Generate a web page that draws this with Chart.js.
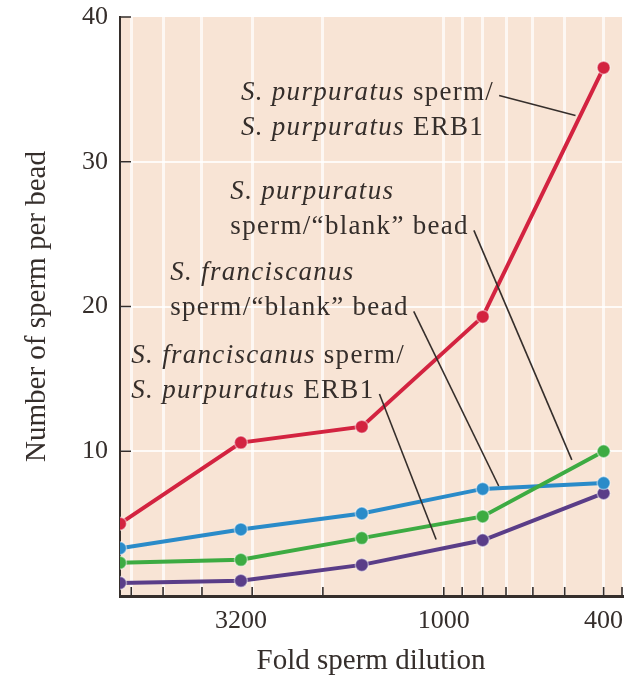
<!DOCTYPE html>
<html>
<head>
<meta charset="utf-8">
<script src="https://cdn.jsdelivr.net/npm/chart.js@4.4.1/dist/chart.umd.min.js"></script>
<style>
  html, body { margin: 0; padding: 0; background: #fff; }
</style>
</head>
<body>
<canvas id="spermChart" width="640" height="686"></canvas>
<script>
// fold dilution of the sperm suspension (x) and sperm bound per bead (y)
const dilutions = [6400, 3200, 1600, 800, 400];
const spermPurpOnErb1 = [5.0, 10.6, 11.7, 19.3, 36.5];
const spermPurpOnBlank = [2.3, 2.5, 4.0, 5.5, 10.0];
const spermFranOnBlank = [3.3, 4.6, 5.7, 7.4, 7.8];
const spermFranOnErb1 = [0.9, 1.05, 2.15, 3.85, 7.1];

const xTickMarks = [400, 500, 600, 700, 800, 900, 1000, 2000, 3000, 4000, 5000, 6000];
const xTickLabels = [3200, 1000, 400];
const yTicks = [0, 10, 20, 30, 40];

// callout text, [text, italic]
const notePurpErb1 = [[["S. purpuratus", true], [" sperm/", false]], [["S. purpuratus", true], [" ERB1", false]]];
const notePurpBlank = [[["S. purpuratus", true]], [["sperm/\u201cblank\u201d bead", false]]];
const noteFranBlank = [[["S. franciscanus", true]], [["sperm/\u201cblank\u201d bead", false]]];
const noteFranErb1 = [[["S. franciscanus", true], [" sperm/", false]], [["S. purpuratus", true], [" ERB1", false]]];
const notes = [notePurpErb1, notePurpBlank, noteFranBlank, noteFranErb1];
// where each callout starts (dilution, count) and where its pointer lands
const noteAnchors = [[3200, 34.3], [3400, 27.4], [4800, 21.8], [6000, 16.1]];
const notePointerLine = [0, 1, 1, 1];
const notePointerEnds = [[470, 33.2], [480, 9.4], [730, 7.6], [1045, 3.9]];

const textColor = "#352e2b";
const serif = "'Liberation Serif', 'Times New Roman', serif";

function series(label, values, color) {
  return {
    label: label,
    data: dilutions.map((d, i) => ({ x: d, y: values[i] })),
    borderColor: color,
    backgroundColor: color,
    borderWidth: 4,
    pointRadius: 6.5,
    pointHoverRadius: 6.5,
    pointBorderColor: "rgba(255,255,255,0.45)",
    pointBorderWidth: 1.5,
    tension: 0,
  };
}

const plotBackground = {
  id: "plotBackground",
  beforeDraw(chart) {
    const { ctx, chartArea: a } = chart;
    ctx.save();
    ctx.fillStyle = "#f8e4d5";
    ctx.fillRect(a.left, a.top, a.right - a.left, a.bottom - a.top);
    ctx.restore();
  },
};

// tick marks point into the plot
const innerTicks = {
  id: "innerTicks",
  beforeDatasetsDraw(chart) {
    const { ctx, chartArea: a, scales } = chart;
    ctx.save();
    ctx.strokeStyle = textColor;
    ctx.lineWidth = 1.6;
    ctx.beginPath();
    xTickMarks.forEach((v) => {
      const px = scales.x.getPixelForValue(v);
      ctx.moveTo(px, a.bottom);
      ctx.lineTo(px, a.bottom - 9);
    });
    ctx.moveTo(a.right, a.bottom);
    ctx.lineTo(a.right, a.bottom - 9);
    yTicks.slice(1).forEach((v) => {
      const py = scales.y.getPixelForValue(v);
      ctx.moveTo(a.left, py);
      ctx.lineTo(a.left + 11, py);
    });
    ctx.stroke();
    ctx.restore();
  },
};

const callouts = {
  id: "callouts",
  afterDatasetsDraw(chart) {
    const { ctx, scales } = chart;
    ctx.save();
    ctx.fillStyle = textColor;
    ctx.strokeStyle = textColor;
    ctx.lineWidth = 1.6;
    ctx.textBaseline = "alphabetic";
    ctx.textAlign = "left";
    ctx.letterSpacing = "1.3px";
    notes.forEach((note, i) => {
      const left = scales.x.getPixelForValue(noteAnchors[i][0]);
      const top = scales.y.getPixelForValue(noteAnchors[i][1]);
      const ends = [];
      note.forEach((line, j) => {
        let cx = left;
        const by = top + j * 35;
        line.forEach(([txt, italic]) => {
          ctx.font = (italic ? "italic " : "") + "27px " + serif;
          ctx.fillText(txt, cx, by);
          cx += ctx.measureText(txt).width;
        });
        ends.push([cx, by]);
      });
      const start = ends[notePointerLine[i]];
      const endX = scales.x.getPixelForValue(notePointerEnds[i][0]);
      const endY = scales.y.getPixelForValue(notePointerEnds[i][1]);
      ctx.beginPath();
      ctx.moveTo(start[0] + 5, start[1] - 4);
      ctx.lineTo(endX, endY);
      ctx.stroke();
    });
    ctx.restore();
  },
};

new Chart(document.getElementById("spermChart").getContext("2d"), {
  type: "line",
  data: {
    datasets: [
      series("S. purpuratus sperm / S. purpuratus ERB1", spermPurpOnErb1, "#d32340"),
      series("S. purpuratus sperm / blank bead", spermPurpOnBlank, "#3dab42"),
      series("S. franciscanus sperm / blank bead", spermFranOnBlank, "#2a8bc9"),
      series("S. franciscanus sperm / S. purpuratus ERB1", spermFranOnErb1, "#5a3d88"),
    ],
  },
  options: {
    responsive: false,
    animation: false,
    events: [],
    layout: { padding: { top: 17, right: 18, bottom: 0, left: 0 } },
    plugins: {
      legend: { display: false },
      tooltip: { enabled: false },
    },
    scales: {
      x: {
        type: "logarithmic",
        reverse: true,
        min: 360,
        max: 6400,
        afterBuildTicks: (s) => {
          s.ticks = xTickMarks.concat([3200]).sort((a, b) => a - b).map((v) => ({ value: v }));
        },
        afterFit: (s) => {
          s.height = 90;
          s.paddingLeft = 0;
          s.paddingRight = 0;
        },
        ticks: {
          autoSkip: false,
          maxRotation: 0,
          padding: 10,
          color: textColor,
          font: { family: serif, size: 26 },
          callback: (v) => (xTickLabels.includes(v) ? String(v) : ""),
        },
        grid: {
          drawTicks: false,
          lineWidth: 3,
          color: (c) => (c.tick && c.tick.value === 3200 ? "rgba(0,0,0,0)" : "rgba(255,255,255,0.7)"),
        },
        border: { color: textColor, width: 3 },
        title: {
          display: true,
          text: "Fold sperm dilution",
          color: textColor,
          font: { family: serif, size: 29 },
          padding: { top: 0, bottom: 7 },
        },
      },
      y: {
        min: 0,
        max: 40,
        afterBuildTicks: (s) => {
          s.ticks = yTicks.map((v) => ({ value: v }));
        },
        afterFit: (s) => {
          s.width = 120;
          s.paddingTop = 0;
          s.paddingBottom = 0;
        },
        ticks: {
          padding: 12,
          color: textColor,
          font: { family: serif, size: 26 },
          callback: (v) => (v === 0 ? "" : v),
        },
        grid: {
          drawTicks: false,
          lineWidth: 2,
          color: (c) => (c.tick && c.tick.value > 0 && c.tick.value < 40 ? "rgba(255,255,255,0.8)" : "rgba(0,0,0,0)"),
        },
        border: { color: textColor, width: 2 },
        title: {
          display: true,
          text: "Number of sperm per bead",
          color: textColor,
          font: { family: serif, size: 29 },
          padding: { top: 20, bottom: 0 },
        },
      },
    },
  },
  plugins: [plotBackground, innerTicks, callouts],
});
</script>
</body>
</html>
